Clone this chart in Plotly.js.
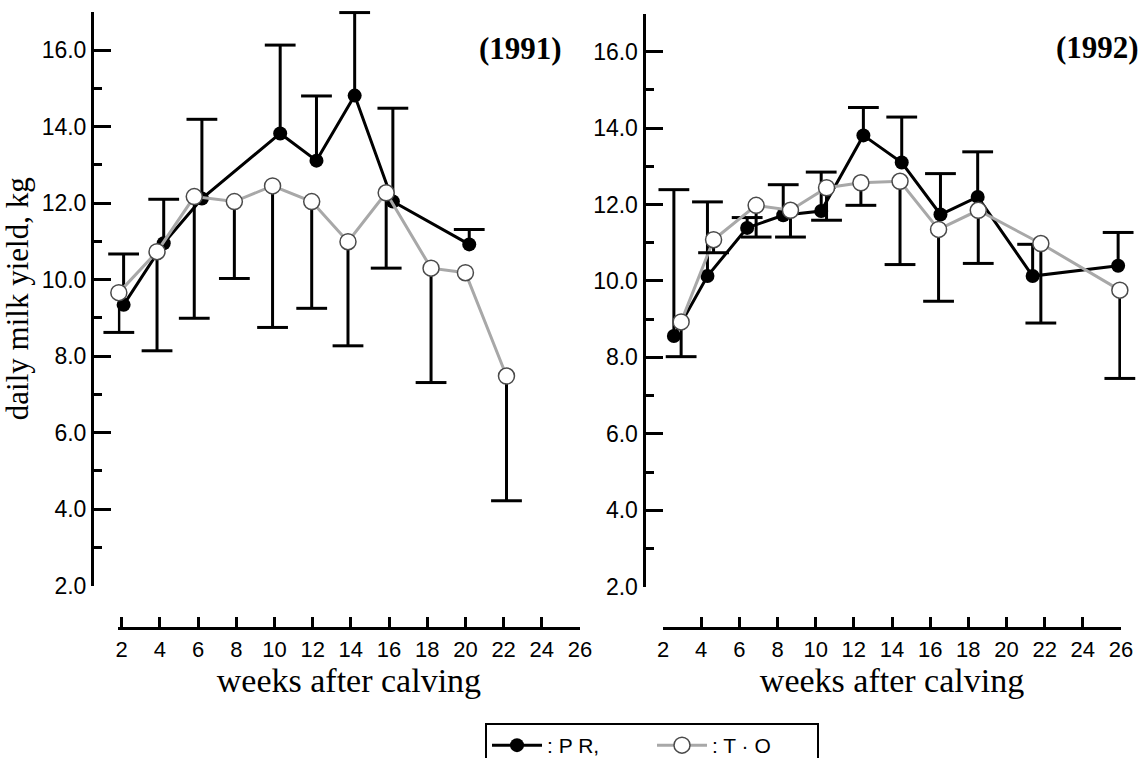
<!DOCTYPE html>
<html><head><meta charset="utf-8">
<script src="https://cdn.plot.ly/plotly-3.0.1.min.js"></script>
<style>html,body{margin:0;padding:0;background:#fff}#chart{width:1146px;height:758px}</style>
</head><body><div id="chart"></div>
<script>
// ---- 1991 ----
const weeksPR91 = [2.1, 4.2, 6.2, 10.3, 12.2, 14.2, 16.2, 20.2];
const yieldPR91 = [9.34, 10.95, 12.12, 13.82, 13.11, 14.81, 12.04, 10.92];
const errUpPR91 = [1.33, 1.15, 2.07, 2.31, 1.69, 2.17, 2.44, 0.39];

const weeksTO91 = [1.85, 3.85, 5.8, 7.9, 9.9, 11.95, 13.85, 15.85, 18.2, 20.0, 22.15];
const yieldTO91 = [9.66, 10.73, 12.17, 12.04, 12.45, 12.04, 10.99, 12.27, 10.30, 10.18, 7.48];
const errDnTO91 = [1.04, 2.59, 3.18, 2.01, 3.70, 2.79, 2.72, 1.97, 2.99, 0, 3.26];

// ---- 1992 ----
const weeksPR92 = [2.57, 4.33, 6.41, 8.3, 10.29, 12.5, 14.51, 16.54, 18.49, 21.37, 25.85];
const yieldPR92 = [8.56, 10.13, 11.39, 11.72, 11.83, 13.81, 13.10, 11.74, 12.20, 10.13, 10.40];
const errUpPR92 = [3.83, 1.94, 0.27, 0.80, 1.02, 0.73, 1.19, 1.07, 1.18, 0.83, 0.87];

const weeksTO92 = [2.95, 4.65, 6.88, 8.68, 10.57, 12.37, 14.42, 16.44, 18.52, 21.8, 25.94];
const yieldTO92 = [8.93, 11.08, 11.98, 11.85, 12.44, 12.57, 12.61, 11.35, 11.85, 10.98, 9.76];
const errDnTO92 = [0.91, 0.34, 0.83, 0.70, 0.85, 0.59, 2.18, 1.88, 1.39, 2.08, 2.31];

const namePR = ': P R,';
const nameTO = ': T · O';
const yearLabels = ['(1991)', '(1992)'];
const xTitle = 'weeks after calving';
const yTitle = 'daily milk yield, kg';

const W = 1146, H = 758;
const px = v => v / W;
const py = v => (H - v) / H;
const serif = '"Liberation Serif", "Times New Roman", serif';
const sans = '"Liberation Sans", Arial, sans-serif';
const zeros = a => a.map(() => 0);

function prTraces(x, y, up, xa, ya, legend) {
  return [{
    x: x, y: y, xaxis: xa, yaxis: ya, type: 'scatter', mode: 'lines+markers',
    name: namePR, legendgroup: 'pr', showlegend: legend, cliponaxis: false,
    line: {color: '#000', width: 3},
    marker: {color: '#000', size: 14},
    error_y: {type: 'data', symmetric: false, array: up, arrayminus: zeros(up),
              width: 0, thickness: 3, color: '#000'}
  }, {
    x: x, y: y.map((v, i) => up[i] > 0 ? v + up[i] : null),
    xaxis: xa, yaxis: ya, type: 'scatter', mode: 'markers', showlegend: false,
    hoverinfo: 'skip', cliponaxis: false,
    marker: {symbol: 'line-ew', size: 22, color: '#000', line: {width: 3, color: '#000'}}
  }];
}
function toTraces(x, y, dn, xa, ya, legend) {
  return [{
    x: x, y: y, xaxis: xa, yaxis: ya, type: 'scatter', mode: 'lines+markers',
    name: nameTO, legendgroup: 'to', showlegend: legend, cliponaxis: false,
    line: {color: '#a8a8a8', width: 3},
    marker: {color: '#fff', size: 16, line: {color: '#4a4a4a', width: 1.5}},
    error_y: {type: 'data', symmetric: false, array: zeros(dn), arrayminus: dn,
              width: 0, thickness: 3, color: '#000'}
  }, {
    x: x, y: y.map((v, i) => dn[i] > 0 ? v - dn[i] : null),
    xaxis: xa, yaxis: ya, type: 'scatter', mode: 'markers', showlegend: false,
    hoverinfo: 'skip', cliponaxis: false,
    marker: {symbol: 'line-ew', size: 22, color: '#000', line: {width: 3, color: '#000'}}
  }];
}

const data = [].concat(
  prTraces(weeksPR91, yieldPR91, errUpPR91, 'x', 'y', true),
  toTraces(weeksTO91, yieldTO91, errDnTO91, 'x', 'y', true),
  prTraces(weeksPR92, yieldPR92, errUpPR92, 'x2', 'y2', false),
  toTraces(weeksTO92, yieldTO92, errDnTO92, 'x2', 'y2', false)
);

function xAxis(d0, d1, r0) {
  return {
    domain: [px(d0), px(d1)], range: [r0, 26], anchor: 'free', position: py(628.3),
    showline: true, linewidth: 3, linecolor: '#000', showgrid: false, zeroline: false,
    ticks: 'inside', ticklen: 10, tickwidth: 3, tickcolor: '#000',
    tick0: 2, dtick: 2, tickfont: {family: sans, size: 22, color: '#000'},
    title: {text: xTitle, font: {family: serif, size: 34, color: '#000'}, standoff: 0}
  };
}
function yAxis(bot, top, pos, title) {
  return {
    domain: [py(bot), py(top)], range: [2, 17], anchor: 'free', position: px(pos),
    showline: true, linewidth: 3, linecolor: '#000', showgrid: false, zeroline: false,
    ticks: 'inside', ticklen: 17, tickwidth: 3, tickcolor: '#000',
    tick0: 2, dtick: 2, tickformat: '.1f',
    tickfont: {family: sans, size: 23, color: '#000'},
    minor: {ticks: 'inside', ticklen: 8, tickwidth: 3, tickcolor: '#000', dtick: 1, tick0: 1, showgrid: false},
    title: {text: title, font: {family: serif, size: 31, color: '#000'}}
  };
}

const layout = {
  width: W, height: H,
  margin: {l: 0, r: 0, t: 0, b: 0, autoexpand: false},
  paper_bgcolor: '#fff', plot_bgcolor: 'rgba(0,0,0,0)',
  xaxis: xAxis(121.7 - 0.2 * 19.1, 580, 1.8),
  yaxis: yAxis(585.7, 11.8, 92, yTitle),
  xaxis2: xAxis(663, 1121, 2),
  yaxis2: yAxis(586.7, 13.5, 643.5, ''),
  showlegend: true,
  legend: {
    orientation: 'h', x: px(485), xanchor: 'left', y: py(723), yanchor: 'top',
    bordercolor: '#000', borderwidth: 2, bgcolor: '#fff', itemwidth: 50,
    entrywidth: 100, entrywidthmode: 'pixels',
    font: {family: sans, size: 21, color: '#000'}, traceorder: 'normal'
  },
  annotations: [
    {text: yearLabels[0], xref: 'paper', yref: 'paper', x: px(520), y: py(48),
     xanchor: 'center', yanchor: 'middle',
     showarrow: false, font: {family: serif, size: 31, color: '#000', weight: 700}},
    {text: yearLabels[1], xref: 'paper', yref: 'paper', x: px(1097), y: py(47),
     xanchor: 'center', yanchor: 'middle',
     showarrow: false, font: {family: serif, size: 31, color: '#000', weight: 700}}
  ]
};

Plotly.newPlot('chart', data, layout, {displayModeBar: false, staticPlot: true});
</script>
</body></html>
